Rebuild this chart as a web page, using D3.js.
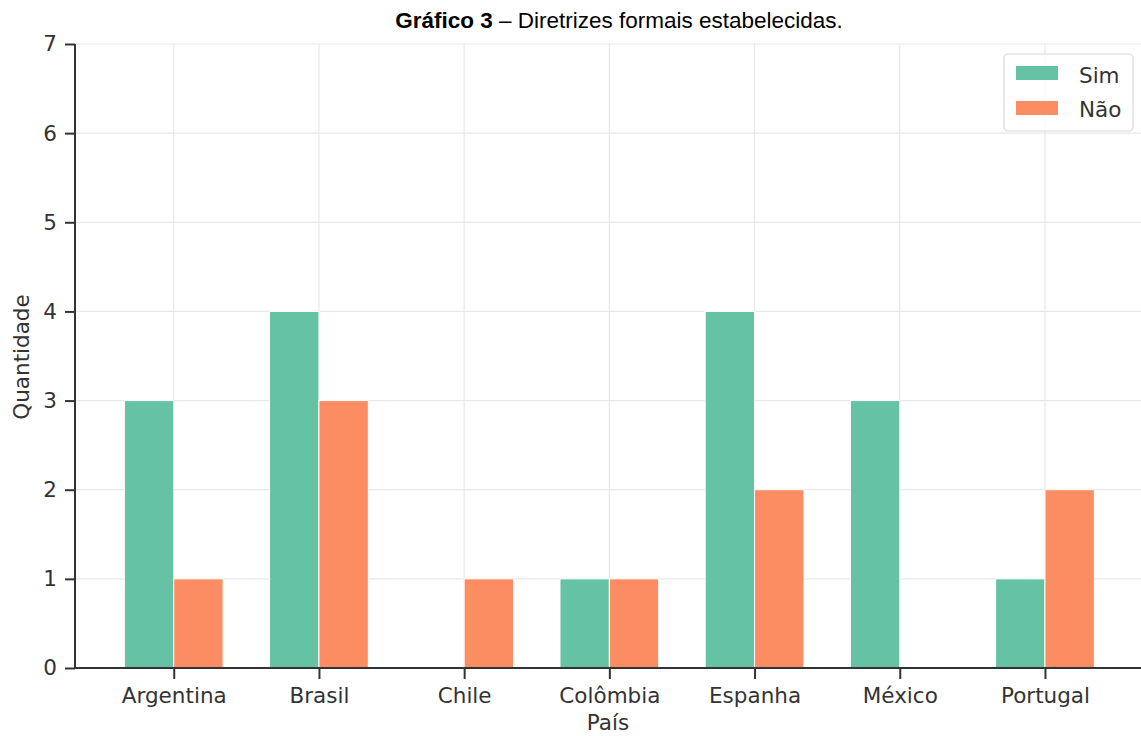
<!DOCTYPE html>
<html><head><meta charset="utf-8">
<script src="https://cdn.jsdelivr.net/npm/d3@7"></script>
<style>body{margin:0;background:#fff}</style>
</head><body>
<svg id="c" width="1141" height="736"></svg>
<script>
const categories = ["Argentina","Brasil","Chile","Colômbia","Espanha","México","Portugal"];
const sim = [3,4,0,1,4,3,1];
const nao = [1,3,1,1,2,0,2];
const seriesNames = ["Sim","Não"];
const yTicks = [0,1,2,3,4,5,6,7];
const colors = ["#66c2a5","#fc8d62"];

(function(){
const svg = d3.select("#c");
const pLeft = 75, pRight = 1143.7, pTop = 44, pBottom = 668;
const x = d3.scaleLinear().domain([-0.68, categories.length - 1 + 0.68]).range([pLeft, pRight]);
const y = d3.scaleLinear().domain([0,7]).range([pBottom, pTop]);
const font = "DejaVu Sans, sans-serif";
const ink = "#333";
const fs = 21.5;

// grid
svg.append("g").selectAll("line").data(yTicks).join("line")
  .attr("x1", pLeft).attr("x2", pRight).attr("y1", d=>y(d)).attr("y2", d=>y(d))
  .attr("stroke", "#e8e8e8").attr("stroke-width", 1.2);
svg.append("g").selectAll("line").data(categories).join("line")
  .attr("x1", (d,i)=>x(i)).attr("x2", (d,i)=>x(i)).attr("y1", pTop).attr("y2", pBottom)
  .attr("stroke", "#e8e8e8").attr("stroke-width", 1.2);

const bw = 0.34;
const data = [sim, nao];
data.forEach((vals, s) => {
  svg.append("g").selectAll("rect").data(vals).join("rect")
    .attr("x", (d,i)=>x(i + (s===0 ? -bw : 0)))
    .attr("width", x(bw) - x(0))
    .attr("y", d=>y(d))
    .attr("height", d=>y(0)-y(d))
    .attr("fill", colors[s])
    .attr("stroke", d => d > 0 ? "#fff" : "none").attr("stroke-width", 1);
});

// axes
const yAxis = d3.axisLeft(y).tickValues(yTicks).tickFormat(d3.format("d")).tickSize(10).tickPadding(8);
const gy = svg.append("g").attr("transform", `translate(${pLeft},0)`).call(yAxis);
const xAxis = d3.axisBottom(x).tickValues(d3.range(categories.length)).tickFormat(i=>categories[i]).tickSize(11).tickPadding(9);
const gx = svg.append("g").attr("transform", `translate(0,${pBottom})`).call(xAxis);
[gx, gy].forEach(g => {
  g.select(".domain").attr("stroke", ink).attr("stroke-width", 2);
  g.selectAll(".tick line").attr("stroke", ink).attr("stroke-width", 2);
  g.selectAll(".tick text").attr("fill", ink).attr("font-family", font).attr("font-size", fs);
});
gy.select(".domain").attr("d", `M0,${pTop}V${pBottom}`);
gx.select(".domain").attr("d", `M${pLeft},0H${pRight}`);

// labels
svg.append("text").attr("x", 608).attr("y", 730).attr("text-anchor","middle")
  .attr("font-family", font).attr("font-size", fs).attr("fill", ink).text("País");
svg.append("text").attr("transform", "translate(29,357) rotate(-90)").attr("text-anchor","middle")
  .attr("font-family", font).attr("font-size", fs).attr("fill", ink).text("Quantidade");

// title
const t = svg.append("text").attr("x", 619).attr("y", 28).attr("text-anchor","middle")
  .attr("font-family", "Liberation Sans, Arial, sans-serif").attr("font-size", 22.5).attr("fill", "#000");
t.append("tspan").attr("font-weight","bold").text("Gráfico 3");
t.append("tspan").text(" – Diretrizes formais estabelecidas.");

// legend
const lg = svg.append("g");
lg.append("rect").attr("x", 1004).attr("y", 54).attr("width", 129).attr("height", 77).attr("rx", 4)
  .attr("fill", "#fff").attr("fill-opacity", 0.85).attr("stroke", "#d9d9d9").attr("stroke-width", 1.2);
seriesNames.forEach((n, i) => {
  lg.append("rect").attr("x", 1016).attr("y", 66 + i*35).attr("width", 42).attr("height", 14).attr("fill", colors[i]);
  lg.append("text").attr("x", 1079).attr("y", 83 + i*34).attr("font-family", font).attr("font-size", fs)
    .attr("fill", ink).text(n);
});
})();
</script>
</body></html>
